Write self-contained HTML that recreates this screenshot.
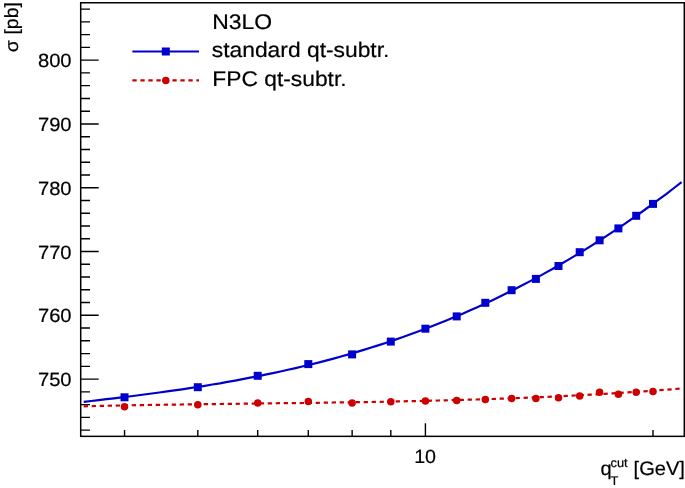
<!DOCTYPE html>
<html><head><meta charset="utf-8"><title>N3LO qt-subtraction</title>
<style>
html,body{margin:0;padding:0;background:#fff;}
svg{display:block;font-family:"Liberation Sans",sans-serif;}
text{fill:#000;stroke:#000;stroke-width:0.2px;text-rendering:geometricPrecision;}
</style></head><body>
<svg width="685" height="488" viewBox="0 0 685 488">
<rect x="0" y="0" width="685" height="488" fill="#fff"/>
<rect x="80.7" y="2.75" width="603.6" height="433.60" fill="none" stroke="#000" stroke-width="1.5"/>
<path d="M80.7,430.12h9.3 M80.7,417.36h9.3 M80.7,404.61h9.3 M80.7,391.85h9.3 M80.7,379.09h18 M80.7,366.33h9.3 M80.7,353.58h9.3 M80.7,340.82h9.3 M80.7,328.06h9.3 M80.7,315.31h18 M80.7,302.55h9.3 M80.7,289.79h9.3 M80.7,277.03h9.3 M80.7,264.28h9.3 M80.7,251.52h18 M80.7,238.76h9.3 M80.7,226.00h9.3 M80.7,213.25h9.3 M80.7,200.49h9.3 M80.7,187.73h18 M80.7,174.97h9.3 M80.7,162.22h9.3 M80.7,149.46h9.3 M80.7,136.70h9.3 M80.7,123.94h18 M80.7,111.19h9.3 M80.7,98.43h9.3 M80.7,85.67h9.3 M80.7,72.92h9.3 M80.7,60.16h18 M80.7,47.40h9.3 M80.7,34.64h9.3 M80.7,21.89h9.3 M80.7,9.13h9.3 M124.55,436.5v-6.6 M197.81,436.5v-6.6 M257.68,436.5v-6.6 M308.30,436.5v-6.6 M352.14,436.5v-6.6 M390.81,436.5v-6.6 M653.00,436.5v-6.6 M425.41,436.5v-13.3" stroke="#000" stroke-width="1.4" fill="none"/>
<text transform="translate(71.6,385.7) scale(1.057,1)" font-size="19.1" text-anchor="end">750</text>
<text transform="translate(71.6,322.15) scale(1.057,1)" font-size="19.1" text-anchor="end">760</text>
<text transform="translate(71.6,258.65) scale(1.057,1)" font-size="19.1" text-anchor="end">770</text>
<text transform="translate(71.6,194.7) scale(1.057,1)" font-size="19.1" text-anchor="end">780</text>
<text transform="translate(71.6,130.9) scale(1.057,1)" font-size="19.1" text-anchor="end">790</text>
<text transform="translate(71.6,67.45) scale(1.057,1)" font-size="19.1" text-anchor="end">800</text>
<text transform="translate(425.09999999999997,462.8) scale(1.03,1)" font-size="19.1" text-anchor="middle">10</text>
<text transform="translate(17.9,52.3) rotate(-90) scale(1,0.95)" font-size="19.5">σ</text>
<text transform="translate(17.5,34.55) rotate(-90) scale(1,0.98)" font-size="19.5">[pb]</text>
<text transform="translate(600.6,474.7) scale(1.03,1)" font-size="19.5">q</text>
<text transform="translate(610.5,467.1) scale(1.03,1)" font-size="12.5">cut</text>
<text transform="translate(610.5,484.7) scale(1.03,1)" font-size="12.5">T</text>
<text transform="translate(633.6,474.7) scale(1.03,1)" font-size="19.5">[GeV]</text>
<path d="M83.7,401.9 L91.3,401.0 L98.8,400.1 L106.4,399.2 L114.0,398.3 L121.5,397.4 L129.1,396.5 L136.7,395.5 L144.2,394.5 L151.8,393.5 L159.4,392.5 L167.0,391.4 L174.5,390.4 L182.1,389.3 L189.7,388.1 L197.2,387.0 L204.8,385.8 L212.4,384.5 L219.9,383.3 L227.5,381.9 L235.1,380.6 L242.6,379.2 L250.2,377.7 L257.8,376.3 L265.3,374.7 L272.9,373.1 L280.5,371.5 L288.0,369.8 L295.6,368.1 L303.2,366.3 L310.8,364.5 L318.3,362.6 L325.9,360.6 L333.5,358.6 L341.0,356.5 L348.6,354.4 L356.2,352.1 L363.7,349.9 L371.3,347.5 L378.9,345.1 L386.4,342.7 L394.0,340.1 L401.6,337.5 L409.1,334.8 L416.7,332.0 L424.3,329.2 L431.8,326.3 L439.4,323.3 L447.0,320.2 L454.5,317.1 L462.1,313.9 L469.7,310.6 L477.3,307.2 L484.8,303.7 L492.4,300.2 L500.0,296.5 L507.5,292.8 L515.1,289.0 L522.7,285.1 L530.2,281.1 L537.8,277.1 L545.4,272.9 L552.9,268.7 L560.5,264.3 L568.1,259.9 L575.6,255.4 L583.2,250.8 L590.8,246.1 L598.3,241.3 L605.9,236.4 L613.5,231.4 L621.1,226.3 L628.6,221.1 L636.2,215.8 L643.8,210.5 L651.3,205.0 L658.9,199.4 L666.5,193.8 L674.0,188.0 L681.6,182.1" stroke="#0000cc" stroke-width="2.2" fill="none"/>
<path d="M83.7,406.3 L91.3,406.1 L98.8,405.9 L106.4,405.8 L113.9,405.6 L121.5,405.5 L129.0,405.3 L136.6,405.2 L144.1,405.1 L151.7,404.9 L159.3,404.8 L166.8,404.7 L174.4,404.6 L181.9,404.5 L189.5,404.4 L197.0,404.3 L204.6,404.2 L212.1,404.1 L219.7,404.0 L227.3,403.9 L234.8,403.8 L242.4,403.7 L249.9,403.6 L257.5,403.5 L265.0,403.4 L272.6,403.3 L280.1,403.2 L287.7,403.2 L295.3,403.1 L302.8,403.0 L310.4,402.9 L317.9,402.8 L325.5,402.7 L333.0,402.5 L340.6,402.4 L348.1,402.3 L355.7,402.2 L363.3,402.1 L370.8,402.0 L378.4,401.8 L385.9,401.7 L393.5,401.5 L401.0,401.4 L408.6,401.2 L416.2,401.1 L423.7,400.9 L431.3,400.7 L438.8,400.5 L446.4,400.3 L453.9,400.1 L461.5,399.9 L469.0,399.7 L476.6,399.5 L484.2,399.2 L491.7,399.0 L499.3,398.7 L506.8,398.5 L514.4,398.2 L521.9,397.9 L529.5,397.6 L537.0,397.3 L544.6,397.0 L552.2,396.6 L559.7,396.3 L567.3,395.9 L574.8,395.5 L582.4,395.1 L589.9,394.7 L597.5,394.3 L605.0,393.9 L612.6,393.4 L620.2,392.9 L627.7,392.4 L635.3,391.9 L642.8,391.4 L650.4,390.9 L657.9,390.3 L665.5,389.8 L673.0,389.2 L680.6,388.6" stroke="#cc0000" stroke-width="2.2" fill="none" stroke-dasharray="4.3 3.7"/>
<rect x="120.5" y="393.3" width="8" height="8" fill="#0000cc"/>
<rect x="193.8" y="383.2" width="8" height="8" fill="#0000cc"/>
<rect x="253.7" y="371.8" width="8" height="8" fill="#0000cc"/>
<rect x="304.3" y="360.1" width="8" height="8" fill="#0000cc"/>
<rect x="348.1" y="350.4" width="8" height="8" fill="#0000cc"/>
<rect x="386.8" y="337.6" width="8" height="8" fill="#0000cc"/>
<rect x="421.4" y="324.7" width="8" height="8" fill="#0000cc"/>
<rect x="452.7" y="312.4" width="8" height="8" fill="#0000cc"/>
<rect x="481.3" y="298.8" width="8" height="8" fill="#0000cc"/>
<rect x="507.6" y="286.2" width="8" height="8" fill="#0000cc"/>
<rect x="531.9" y="274.9" width="8" height="8" fill="#0000cc"/>
<rect x="554.5" y="262.0" width="8" height="8" fill="#0000cc"/>
<rect x="575.7" y="248.2" width="8" height="8" fill="#0000cc"/>
<rect x="595.6" y="236.3" width="8" height="8" fill="#0000cc"/>
<rect x="614.4" y="224.4" width="8" height="8" fill="#0000cc"/>
<rect x="632.2" y="211.8" width="8" height="8" fill="#0000cc"/>
<rect x="649.0" y="199.9" width="8" height="8" fill="#0000cc"/>
<circle cx="124.5" cy="406.8" r="3.75" fill="#cc0000"/>
<circle cx="197.8" cy="404.7" r="3.75" fill="#cc0000"/>
<circle cx="257.7" cy="403.0" r="3.75" fill="#cc0000"/>
<circle cx="308.3" cy="401.5" r="3.75" fill="#cc0000"/>
<circle cx="352.1" cy="403.1" r="3.75" fill="#cc0000"/>
<circle cx="390.8" cy="401.8" r="3.75" fill="#cc0000"/>
<circle cx="425.4" cy="401.0" r="3.75" fill="#cc0000"/>
<circle cx="456.7" cy="400.6" r="3.75" fill="#cc0000"/>
<circle cx="485.3" cy="399.4" r="3.75" fill="#cc0000"/>
<circle cx="511.6" cy="398.5" r="3.75" fill="#cc0000"/>
<circle cx="535.9" cy="398.6" r="3.75" fill="#cc0000"/>
<circle cx="558.5" cy="397.7" r="3.75" fill="#cc0000"/>
<circle cx="579.7" cy="395.9" r="3.75" fill="#cc0000"/>
<circle cx="599.6" cy="392.3" r="3.75" fill="#cc0000"/>
<circle cx="618.4" cy="394.3" r="3.75" fill="#cc0000"/>
<circle cx="636.2" cy="392.3" r="3.75" fill="#cc0000"/>
<circle cx="653.0" cy="391.5" r="3.75" fill="#cc0000"/>
<path d="M132.4,51.5H199" stroke="#0000cc" stroke-width="2.2"/>
<rect x="161.8" y="47.5" width="8" height="8" fill="#0000cc"/>
<path d="M132.4,80.4H199" stroke="#cc0000" stroke-width="2.2" stroke-dasharray="4.3 3.7"/>
<circle cx="165.8" cy="80.4" r="3.75" fill="#cc0000"/>
<text transform="translate(212.3,28.5) scale(1.082,1)" font-size="21.2">N3LO</text>
<text transform="translate(211.8,57.1) scale(1.077,1)" font-size="21.2">standard qt-subtr.</text>
<text transform="translate(212.3,86.0) scale(1.076,1)" font-size="21.2">FPC qt-subtr.</text>
</svg></body></html>
